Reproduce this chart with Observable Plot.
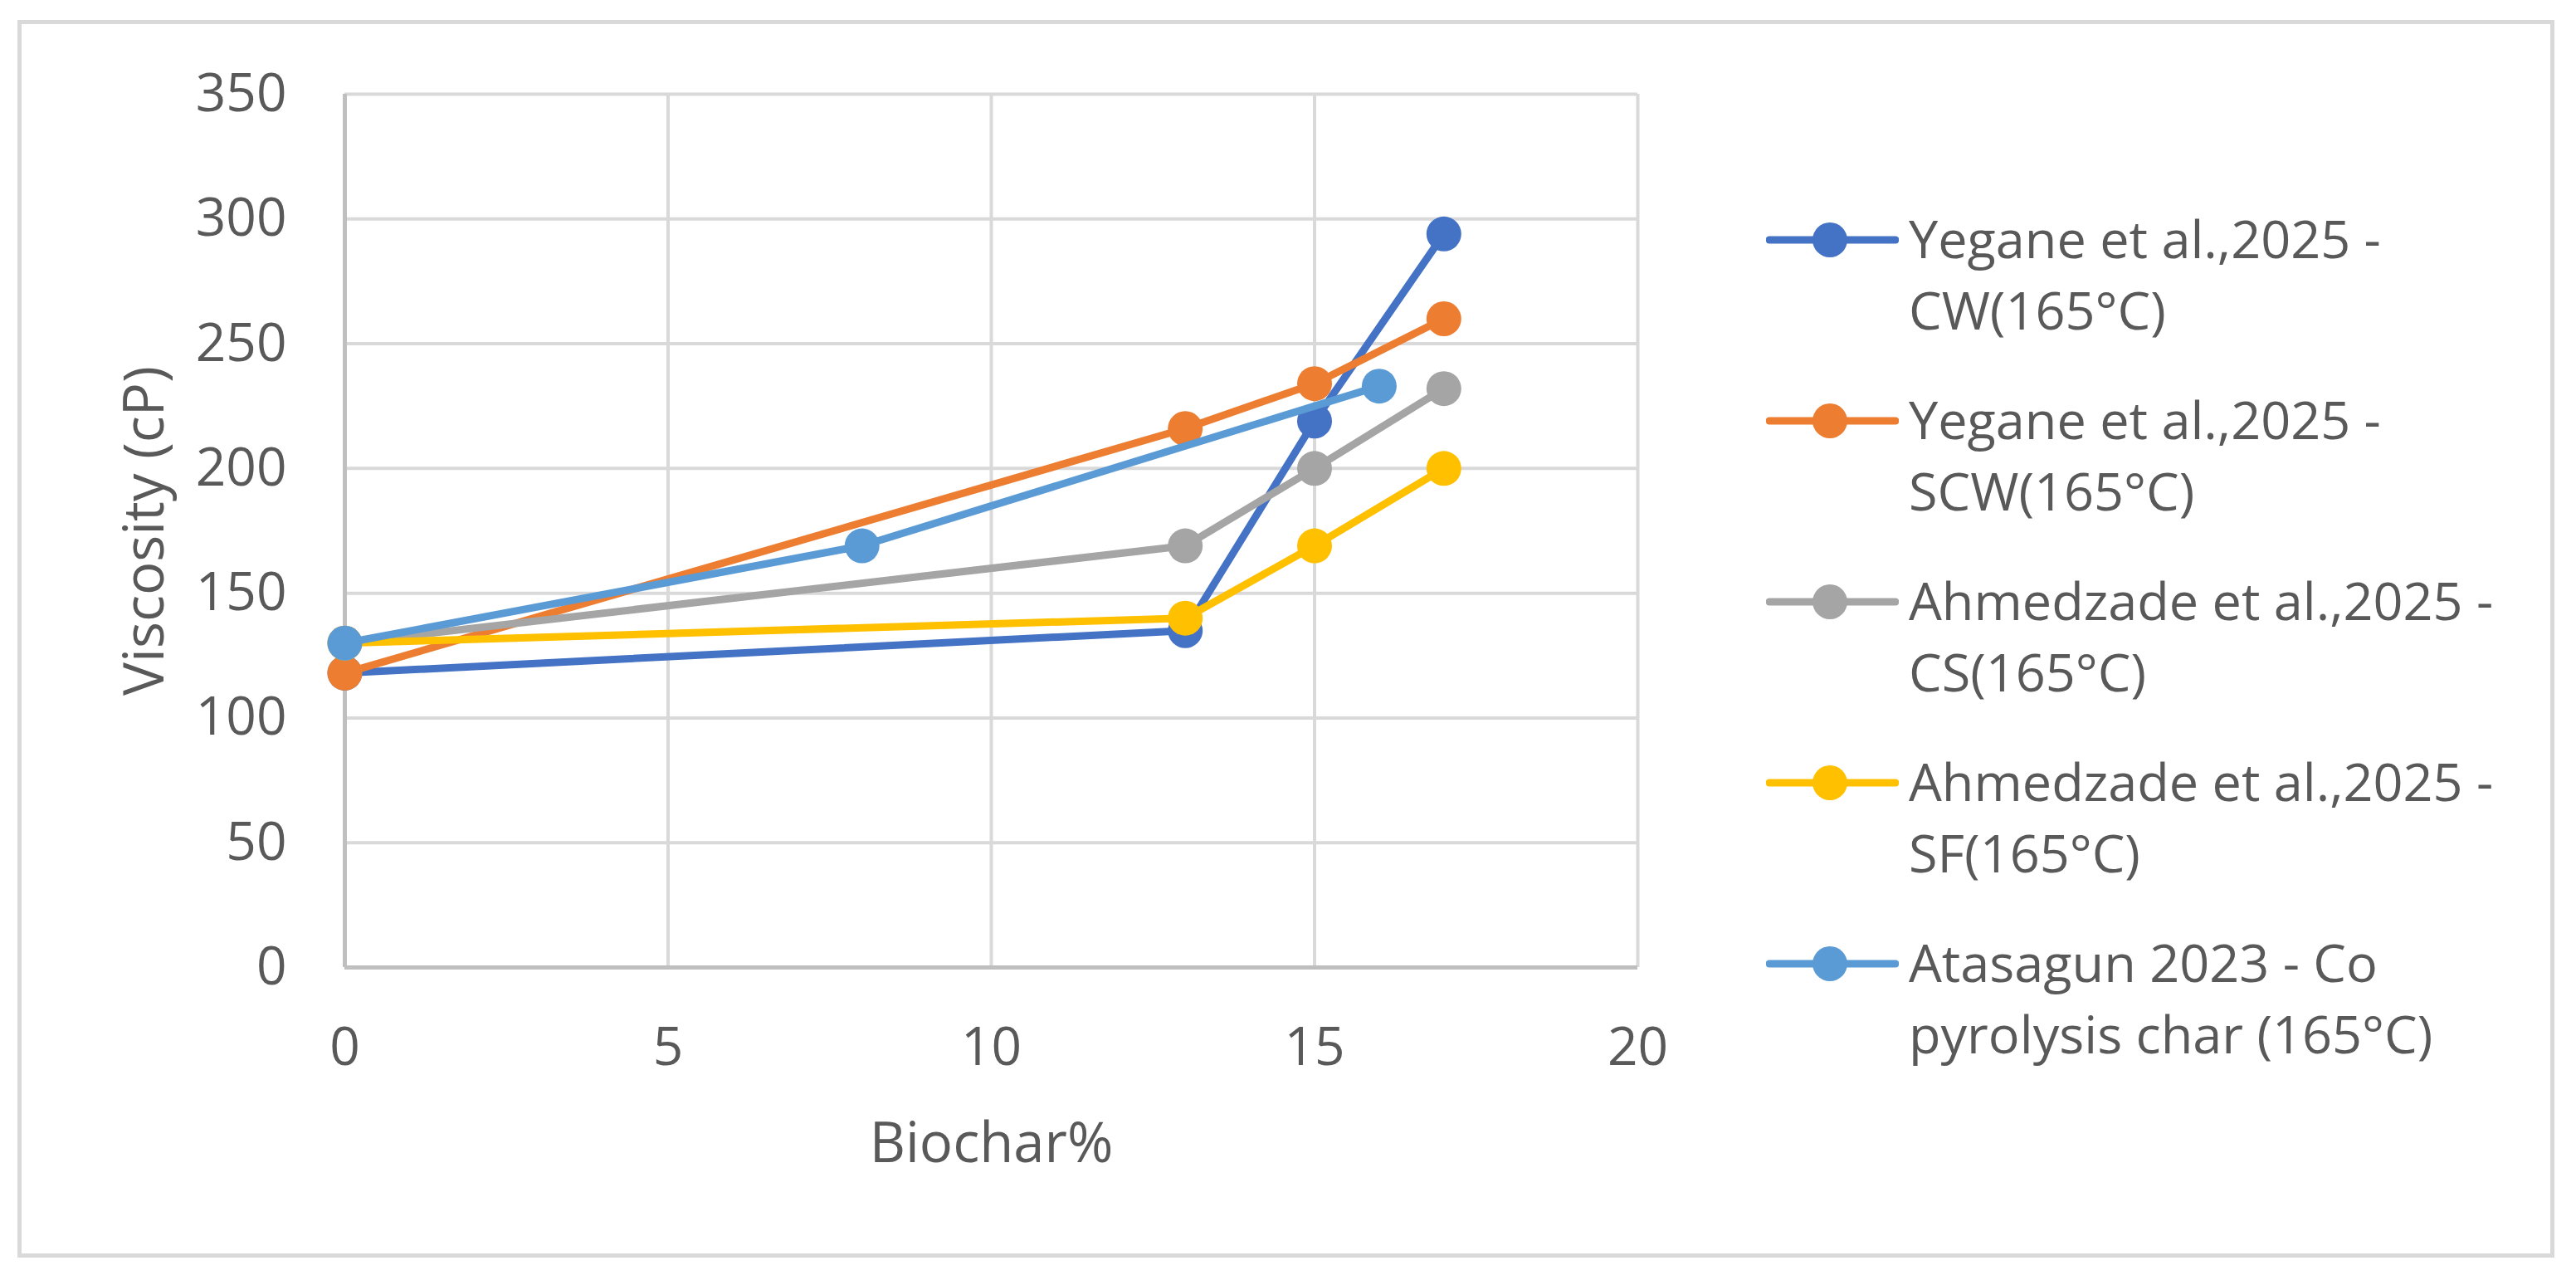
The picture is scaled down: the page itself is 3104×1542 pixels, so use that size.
<!DOCTYPE html>
<html>
<head>
<meta charset="utf-8">
<script src="https://cdn.jsdelivr.net/npm/d3@7"></script>
<script src="https://cdn.jsdelivr.net/npm/@observablehq/plot@0.6"></script>
<style>
  html, body { margin: 0; padding: 0; background: #ffffff; }
  #wrap { position: relative; width: 3104px; height: 1542px; overflow: hidden; font-family: "Open Sans", sans-serif; }
  #frame { position: absolute; left: 21px; top: 24px; width: 3057px; height: 1491px; border: 5px solid #d9d9d9; box-sizing: border-box; }
  #chart { position: absolute; left: 0; top: 0; }
  #legend { position: absolute; left: 2128px; top: 244px; color: #595959; font-size: 63px; line-height: 86px; }
  .entry { display: flex; align-items: flex-start; height: 218px; }
  .entry svg { flex: none; }
  .entry .lbl { margin-left: 12px; white-space: nowrap; }
</style>
</head>
<body>
<div id="wrap">
  <div id="frame"></div>
  <div id="chart"></div>
  <div id="legend"></div>
</div>
<script>
// ---- data ----
const seriesNames = [
  "Yegane et al.,2025 - CW(165°C)",
  "Yegane et al.,2025 - SCW(165°C)",
  "Ahmedzade et al.,2025 - CS(165°C)",
  "Ahmedzade et al.,2025 - SF(165°C)",
  "Atasagun 2023 - Co pyrolysis char (165°C)"
];
const legendLines = [
  ["Yegane et al.,2025 -", "CW(165°C)"],
  ["Yegane et al.,2025 -", "SCW(165°C)"],
  ["Ahmedzade et al.,2025 -", "CS(165°C)"],
  ["Ahmedzade et al.,2025 -", "SF(165°C)"],
  ["Atasagun 2023 - Co", "pyrolysis char (165°C)"]
];
const seriesColors = ["#4472C4", "#ED7D31", "#A5A5A5", "#FFC000", "#5B9BD5"];

const biocharCW  = [0, 13, 15, 17];
const viscCW     = [118, 135, 219, 294];
const biocharSCW = [0, 13, 15, 17];
const viscSCW    = [118, 216, 234, 260];
const biocharCS  = [0, 13, 15, 17];
const viscCS     = [130, 169, 200, 232];
const biocharSF  = [0, 13, 15, 17];
const viscSF     = [130, 140, 169, 200];
const biocharCo  = [0, 8, 16];
const viscCo     = [130, 169, 233];

const xTicks = [0, 5, 10, 15, 20];
const yTicks = [0, 50, 100, 150, 200, 250, 300, 350];
const xLabel = "Biochar%";
const yLabel = "Viscosity (cP)";

// ---- build tables ----
const seriesX = [biocharCW, biocharSCW, biocharCS, biocharSF, biocharCo];
const seriesY = [viscCW, viscSCW, viscCS, viscSF, viscCo];
const tables = seriesNames.map((name, i) =>
  seriesX[i].map((x, j) => ({series: name, x, y: seriesY[i][j]}))
);

const textColor = "#595959";
const seriesMarks = tables.flatMap((rows, i) => [
  Plot.line(rows, {x: "x", y: "y", stroke: seriesColors[i], strokeWidth: 9, strokeLinejoin: "round", strokeLinecap: "round"}),
  Plot.dot(rows, {x: "x", y: "y", r: 21, fill: seriesColors[i], stroke: "none"})
]);

const chart = Plot.plot({
  width: 3104,
  height: 1542,
  marginLeft: 415,
  marginRight: 1131,
  marginTop: 113,
  marginBottom: 377,
  x: {domain: [0, 20]},
  y: {domain: [0, 350]},
  style: {fontFamily: "'Open Sans', sans-serif", color: textColor, background: "transparent", overflow: "visible"},
  marks: [
    Plot.gridY(yTicks, {stroke: "#d9d9d9", strokeWidth: 4, strokeOpacity: 1}),
    Plot.gridX(xTicks, {stroke: "#d9d9d9", strokeWidth: 4, strokeOpacity: 1}),
    Plot.ruleY([0], {stroke: "#bfbfbf", strokeWidth: 5}),
    Plot.ruleX([0], {stroke: "#bfbfbf", strokeWidth: 5}),
    Plot.axisX(xTicks, {tickSize: 0, tickPadding: 72, fontSize: 64, fill: textColor, label: null}),
    Plot.axisY(yTicks, {tickSize: 0, tickPadding: 70, fontSize: 64, fill: textColor, label: null}),
    Plot.axisX([], {tickSize: 0, fontSize: 67, fill: textColor, label: xLabel, labelAnchor: "center", labelOffset: 234, labelArrow: "none"}),
    Plot.axisY([], {tickSize: 0, fontSize: 67, fill: textColor, label: yLabel, labelAnchor: "center", labelOffset: 266, labelArrow: "none"}),
    ...seriesMarks
  ]
});
document.getElementById("chart").appendChild(chart);

// ---- legend ----
const legend = document.getElementById("legend");
legendLines.forEach((lines, i) => {
  const entry = document.createElement("div");
  entry.className = "entry";
  const ns = "http://www.w3.org/2000/svg";
  const svg = document.createElementNS(ns, "svg");
  svg.setAttribute("width", 160);
  svg.setAttribute("height", 90);
  const ln = document.createElementNS(ns, "line");
  ln.setAttribute("x1", 4); ln.setAttribute("x2", 156);
  ln.setAttribute("y1", 45); ln.setAttribute("y2", 45);
  ln.setAttribute("stroke", seriesColors[i]);
  ln.setAttribute("stroke-width", 9);
  ln.setAttribute("stroke-linecap", "round");
  const c = document.createElementNS(ns, "circle");
  c.setAttribute("cx", 77); c.setAttribute("cy", 45); c.setAttribute("r", 21);
  c.setAttribute("fill", seriesColors[i]);
  svg.appendChild(ln); svg.appendChild(c);
  const lbl = document.createElement("div");
  lbl.className = "lbl";
  lines.forEach(t => { const d = document.createElement("div"); d.textContent = t; lbl.appendChild(d); });
  entry.appendChild(svg);
  entry.appendChild(lbl);
  legend.appendChild(entry);
});
</script>
</body>
</html>
